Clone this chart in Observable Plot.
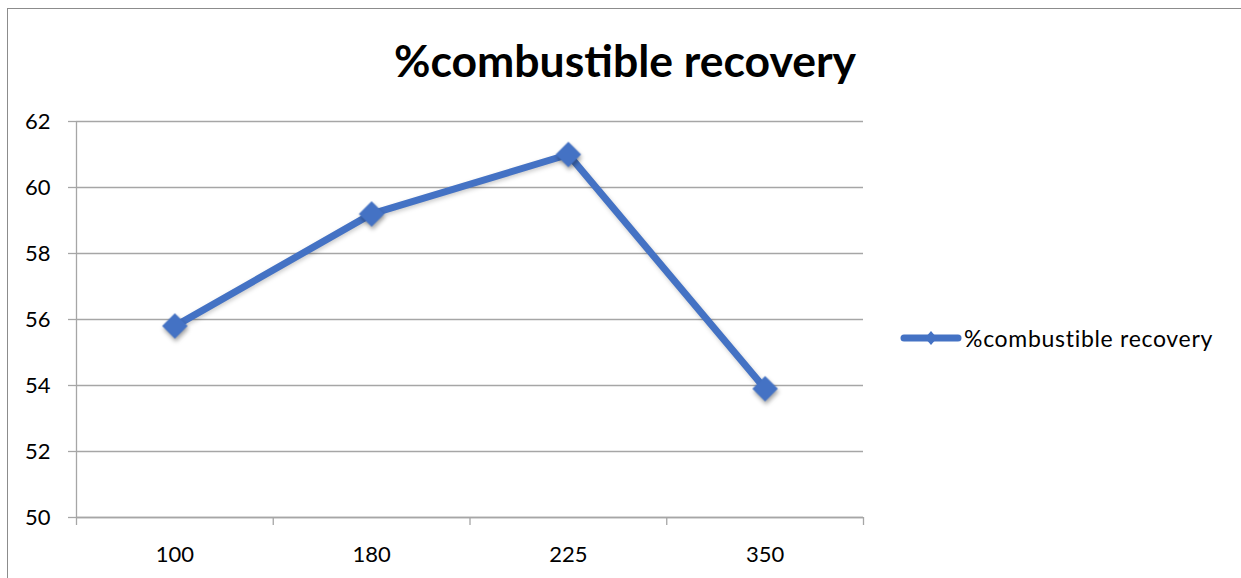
<!DOCTYPE html>
<html>
<head>
<meta charset="utf-8">
<script src="https://cdn.jsdelivr.net/npm/d3@7"></script>
<script src="https://cdn.jsdelivr.net/npm/@observablehq/plot@0.6"></script>
<style>
  html, body { margin: 0; padding: 0; background: #fff; }
  #wrap { position: relative; width: 1241px; height: 578px; overflow: hidden; font-family: Lato, "Open Sans", sans-serif; }
  #frame { position: absolute; left: 7px; top: 8px; width: 1300px; height: 700px; border-left: 1.5px solid #8c8c8c; border-top: 1.5px solid #8c8c8c; box-sizing: border-box; }
  #title { position: absolute; left: 0; width: 1250px; top: 33px; text-align: center; font-weight: 700; font-size: 44.5px; color: #000; white-space: nowrap; }
  #legend { position: absolute; left: 900px; top: 323px; display: flex; align-items: center; font-size: 23px; letter-spacing: 0.7px; color: #000; white-space: nowrap; }
  #chart { position: absolute; left: 0; top: 0; }
  g[aria-label="dot"] { filter: drop-shadow(1px 3px 2px rgba(0,0,0,0.35)); }
  g[aria-label="line"] { filter: drop-shadow(1px 2px 2px rgba(0,0,0,0.2)); }
</style>
</head>
<body>
<div id="wrap">
  <div id="frame"></div>
  <div id="chart"></div>
  <div id="title"></div>
  <div id="legend"></div>
</div>
<script>
const title = "%combustible recovery";
const seriesName = "%combustible recovery";
const categories = ["100", "180", "225", "350"];
const values = [55.8, 59.2, 61.0, 53.9];
const yTicks = [50, 52, 54, 56, 58, 60, 62];
const lineColor = "#4472C4";
const gridColor = "#a6a6a6";

const data = categories.map((c, i) => ({cat: c, i, v: values[i]}));
const bandEdges = d3.range(categories.length + 1);
const bandCenters = categories.map((c, i) => i + 0.5);

const chart = Plot.plot({
  width: 1241,
  height: 578,
  marginLeft: 76,
  marginRight: 378,
  marginTop: 121,
  marginBottom: 61,
  style: {fontFamily: "Lato, 'Open Sans', sans-serif", fontSize: "22px", color: "#000", background: "transparent", overflow: "visible"},
  x: {domain: [0, categories.length], axis: null},
  y: {domain: [50, 62], axis: null},
  marks: [
    Plot.gridY(yTicks, {stroke: gridColor, strokeOpacity: 1, strokeWidth: 1.3}),
    Plot.axisY(yTicks, {label: null, tickSize: 8, tickPadding: 18, stroke: gridColor, strokeWidth: 1.3, fontSize: 22, tickFormat: d => String(d)}),
    Plot.axisX(bandEdges, {label: null, tickSize: 8, stroke: gridColor, strokeWidth: 1.3, tickFormat: () => ""}),
    Plot.axisX(bandCenters, {label: null, tickSize: 0, tickPadding: 29, fontSize: 22, tickFormat: d => categories[Math.round(d - 0.5)]}),
    Plot.ruleX([0], {stroke: gridColor, strokeWidth: 1.3}),
    Plot.ruleY([50], {stroke: gridColor, strokeWidth: 1.3}),
    Plot.line(data, {x: d => d.i + 0.5, y: "v", stroke: lineColor, strokeWidth: 7, strokeLinejoin: "round", strokeLinecap: "round"}),
    Plot.dot(data, {x: d => d.i + 0.5, y: "v", symbol: "diamond2", r: 11.5, fill: lineColor, stroke: "none"})
  ]
});
document.getElementById("chart").appendChild(chart);

document.getElementById("title").textContent = title;

const legend = document.getElementById("legend");
legend.innerHTML = `<svg width="62" height="30" style="margin-right:2px">
  <line x1="4" y1="15" x2="58" y2="15" stroke="${lineColor}" stroke-width="7" stroke-linecap="round"/>
  <path d="M31,8 L37,15 L31,22 L25,15 Z" fill="${lineColor}"/>
</svg><span></span>`;
legend.querySelector("span").textContent = seriesName;
</script>
</body>
</html>
